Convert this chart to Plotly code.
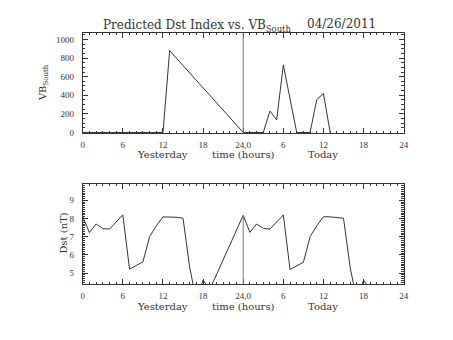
import plotly.graph_objects as go

# VB_South, hourly samples (yesterday and today, hours of day)
vb_yesterday_hours = [0, 1, 2, 3, 4, 5, 6, 7, 8, 9, 10, 11, 12, 13]
vb_yesterday = [0, 0, 0, 0, 0, 0, 0, 0, 0, 0, 0, 0, 0, 880]
vb_today_hours = [0, 1, 2, 3, 4, 5, 6, 8, 9, 10, 11, 12, 13]
vb_today = [0, 0, 0, 0, 230, 135, 726, 0, 0, 0, 354, 418, 0]

# Predicted Dst (nT)
dst_yesterday_hours = [0, 1, 2, 3, 4, 6, 7, 9, 10, 11, 12, 13, 14, 15, 16, 17, 18, 19]
dst_yesterday = [8.10, 7.23, 7.70, 7.45, 7.42, 8.20, 5.22, 5.62, 7.00, 7.60,
                 8.09, 8.09, 8.07, 8.02, 5.30, 3.50, 4.62, 4.10]
dst_today_hours = [0, 1, 2, 3, 4, 6, 7, 9, 10, 11, 12, 13, 14, 15, 16, 17, 18, 19]
dst_today = [8.18, 7.24, 7.70, 7.46, 7.42, 8.20, 5.20, 5.60, 7.00, 7.60,
             8.10, 8.09, 8.07, 8.02, 5.30, 3.50, 4.62, 4.10]

tick_hours = [0, 6, 12, 18, 24, 30, 36, 42, 48]
tick_labels = ["0", "6", "12", "18", "24,0", "6", "12", "18", "24"]

W, H = 453, 340
INK = "#333333"
DIVIDER = "#7a7a7a"
SERIF = "DejaVu Serif"
TICKFONT = dict(family="Liberation Serif", size=9, color=INK)


def py(p):
    """pixel row -> paper y"""
    return 1 - p / H


x_dom = [82 / W, 408 / W]
top_dom = [py(135), py(33)]
bot_dom = [py(288.5), py(186.7)]
VB_RANGE = [-6, 1075]
DST_RANGE = [4.39, 9.9]

vb_x = vb_yesterday_hours + [h + 24 for h in vb_today_hours]
vb_y = vb_yesterday + vb_today
dst_x = dst_yesterday_hours + [24] + [h + 24 for h in dst_today_hours[1:]]
dst_y = dst_yesterday + [dst_today[0]] + dst_today[1:]

fig = go.Figure()
fig.add_trace(go.Scatter(x=vb_x, y=vb_y, mode="lines",
                         line=dict(color=INK, width=1), xaxis="x", yaxis="y"))
fig.add_trace(go.Scatter(x=dst_x, y=dst_y, mode="lines",
                         line=dict(color=INK, width=1), xaxis="x2", yaxis="y2"))

xcommon = dict(range=[0, 48], tickvals=tick_hours, ticktext=tick_labels,
               ticks="inside", ticklen=5, tickwidth=1, tickcolor=INK,
               showline=True, linecolor=INK, linewidth=1, mirror="ticks",
               showgrid=False, zeroline=False, tickfont=TICKFONT,
               ticklabelstandoff=3,
               minor=dict(dtick=1, tick0=0, ticks="inside", ticklen=2.5,
                          tickcolor=INK, showgrid=False))

fig.update_layout(
    width=W, height=H, margin=dict(l=0, r=0, t=0, b=0),
    paper_bgcolor="white", plot_bgcolor="white", showlegend=False,
    xaxis=dict(domain=x_dom, anchor="y", **xcommon),
    xaxis2=dict(domain=x_dom, anchor="y2", **xcommon),
    yaxis=dict(domain=top_dom, anchor="x", range=VB_RANGE,
               tickvals=[0, 200, 400, 600, 800, 1000],
               ticks="inside", ticklen=5, tickcolor=INK,
               showline=True, linecolor=INK, linewidth=1, mirror="ticks",
               showgrid=False, zeroline=False, tickfont=TICKFONT,
               ticklabelstandoff=6,
               minor=dict(dtick=50, tick0=0, ticks="inside", ticklen=2.5,
                          tickcolor=INK, showgrid=False)),
    yaxis2=dict(domain=bot_dom, anchor="x2", range=DST_RANGE,
                tickvals=[5, 6, 7, 8, 9],
                ticks="inside", ticklen=5, tickcolor=INK,
                showline=True, linecolor=INK, linewidth=1, mirror="ticks",
                showgrid=False, zeroline=False, tickfont=TICKFONT,
                ticklabelstandoff=6,
                minor=dict(dtick=0.1, tick0=0, ticks="inside", ticklen=2.5,
                           tickcolor=INK, showgrid=False)),
)

# day boundary markers
fig.add_shape(type="line", xref="x", yref="paper", x0=24, x1=24,
              y0=top_dom[0], y1=top_dom[1], line=dict(color=DIVIDER, width=1))
fig.add_shape(type="line", xref="x2", yref="y2", x0=24, x1=24,
              y0=DST_RANGE[0], y1=dst_today[0], line=dict(color=DIVIDER, width=1))

textfont = dict(family=SERIF, size=10, color=INK)
for xr, ypix in (("x", 157), ("x2", 311)):
    for xv, txt in ((12, "Yesterday"), (24, "time (hours)"), (36, "Today")):
        fig.add_annotation(x=xv, xref=xr, y=py(ypix), yref="paper", text=txt,
                           showarrow=False, font=textfont,
                           xanchor="center", yanchor="middle")

fig.add_annotation(x=42 / W, xref="paper", y=py(84), yref="paper",
                   text="VB<sub>South</sub>", textangle=-90, showarrow=False,
                   font=textfont, xanchor="center", yanchor="middle")
fig.add_annotation(x=62 / W, xref="paper", y=py(237), yref="paper",
                   text="Dst (nT)", textangle=-90, showarrow=False,
                   font=textfont, xanchor="center", yanchor="middle")

titlefont = dict(family=SERIF, size=12, color=INK)
fig.add_annotation(x=296 / W, xref="paper", y=py(26), yref="paper",
                   text="Predicted Dst Index vs. VB<sub>South</sub>",
                   showarrow=False, font=titlefont,
                   xanchor="right", yanchor="middle")
fig.add_annotation(x=308 / W, xref="paper", y=py(24), yref="paper",
                   text="04/26/2011", showarrow=False, font=titlefont,
                   xanchor="left", yanchor="middle")

fig.write_html("out.html")
